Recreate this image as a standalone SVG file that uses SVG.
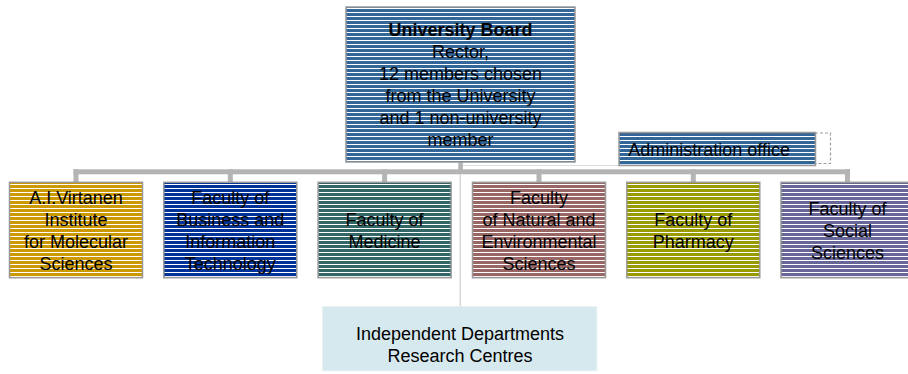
<svg xmlns="http://www.w3.org/2000/svg" width="908" height="374" viewBox="0 0 908 374">
<defs>
<pattern id="stripes" patternUnits="userSpaceOnUse" width="8" height="4">
<rect x="0" y="0" width="8" height="1" fill="#ffffff"/>
</pattern>
</defs>
<style>
.t{font-family:"Liberation Sans",Arial,sans-serif;font-size:18px;fill:#000;text-anchor:middle}
.b{font-weight:bold}
.box{stroke:#999999;stroke-width:1.5}
.st{fill:url(#stripes);stroke:none}
.bar{fill:#b4b4b4}
</style>
<rect width="908" height="374" fill="#ffffff"/>
<g id="connectors">
<rect class="bar" x="73.5" y="169.3" width="776.5" height="5"/>
<rect class="bar" x="73.5" y="169.3" width="5" height="13"/>
<rect class="bar" x="227.8" y="169.3" width="5" height="13"/>
<rect class="bar" x="382.1" y="169.3" width="5" height="13"/>
<rect class="bar" x="536.5" y="169.3" width="5" height="13"/>
<rect class="bar" x="690.8" y="169.3" width="5" height="13"/>
<rect class="bar" x="845" y="169.3" width="5" height="13"/>
<rect class="bar" x="458.3" y="162" width="4.6" height="8"/>
<line x1="460.3" y1="174" x2="460.3" y2="307" stroke="#d6d6d6" stroke-width="1.5"/>
<line x1="463" y1="165.5" x2="619" y2="165.5" stroke="#dedede" stroke-width="1"/>
</g>
<g id="board">
<rect class="box" x="346" y="7" width="229" height="155" fill="#336699"/>
<rect class="st" x="346.8" y="7.8" width="227.4" height="153.4"/>
<text class="t b" x="460.5" y="35.5">University Board</text>
<text class="t" x="460.5" y="57.5">Rector,</text>
<text class="t" x="460.5" y="79.5">12 members chosen</text>
<text class="t" x="460.5" y="101.8">from the University</text>
<text class="t" x="460.5" y="124">and 1 non-university</text>
<text class="t" x="460.5" y="146.3">member</text>
</g>
<g id="admin">
<path d="M815 133 H830.5 V163.5 H815" fill="none" stroke="#a0a0a0" stroke-width="1.2" stroke-dasharray="3,2"/>
<rect class="box" x="619" y="132.5" width="196.5" height="33" fill="#336699"/>
<rect class="st" x="619.8" y="133.3" width="195" height="31.4"/>
<text class="t" x="628.3" y="156" style="text-anchor:start">Administration office</text>
</g>
<g id="virtanen">
<rect class="box" x="9.5" y="182.3" width="133" height="95.4" fill="#cc9900"/>
<rect class="st" x="10.3" y="183.1" width="131.4" height="93.8"/>
<text class="t" x="76" y="203.5">A.I.Virtanen</text>
<text class="t" x="76" y="225.5">Institute</text>
<text class="t" x="76" y="247.5">for Molecular</text>
<text class="t" x="76" y="269.5">Sciences</text>
</g>
<g id="business">
<rect class="box" x="163.8" y="182.3" width="133" height="95.4" fill="#003399"/>
<rect class="st" x="164.6" y="183.1" width="131.4" height="93.8"/>
<text class="t" x="230.3" y="203.5">Faculty of</text>
<text class="t" x="230.3" y="225.5">Business and</text>
<text class="t" x="230.3" y="247.5">Information</text>
<text class="t" x="230.3" y="269.5">Technology</text>
</g>
<g id="medicine">
<rect class="box" x="318.1" y="182.3" width="133" height="95.4" fill="#336666"/>
<rect class="st" x="318.9" y="183.1" width="131.4" height="93.8"/>
<text class="t" x="384.6" y="225.5">Faculty of</text>
<text class="t" x="384.6" y="247.5">Medicine</text>
</g>
<g id="natural">
<rect class="box" x="472.5" y="182.3" width="133" height="95.4" fill="#996666"/>
<rect class="st" x="473.3" y="183.1" width="131.4" height="93.8"/>
<text class="t" x="539" y="203.5">Faculty</text>
<text class="t" x="539" y="225.5">of Natural and</text>
<text class="t" x="539" y="247.5">Environmental</text>
<text class="t" x="539" y="269.5">Sciences</text>
</g>
<g id="pharmacy">
<rect class="box" x="626.8" y="182.3" width="133" height="95.4" fill="#999900"/>
<rect class="st" x="627.6" y="183.1" width="131.4" height="93.8"/>
<text class="t" x="693.3" y="225.5">Faculty of</text>
<text class="t" x="693.3" y="247.5">Pharmacy</text>
</g>
<g id="social">
<rect class="box" x="781" y="182.3" width="133" height="95.4" fill="#666699"/>
<rect class="st" x="781.8" y="183.1" width="131.4" height="93.8"/>
<text class="t" x="847.5" y="214.5">Faculty of</text>
<text class="t" x="847.5" y="236.5">Social</text>
<text class="t" x="847.5" y="258.5">Sciences</text>
</g>
<g id="independent">
<rect x="322.7" y="306.7" width="274" height="64" fill="#d6e9ee" stroke="#e4eef1" stroke-width="1"/>
<text class="t" x="460" y="340">Independent Departments</text>
<text class="t" x="460" y="361.7">Research Centres</text>
</g>
</svg>
